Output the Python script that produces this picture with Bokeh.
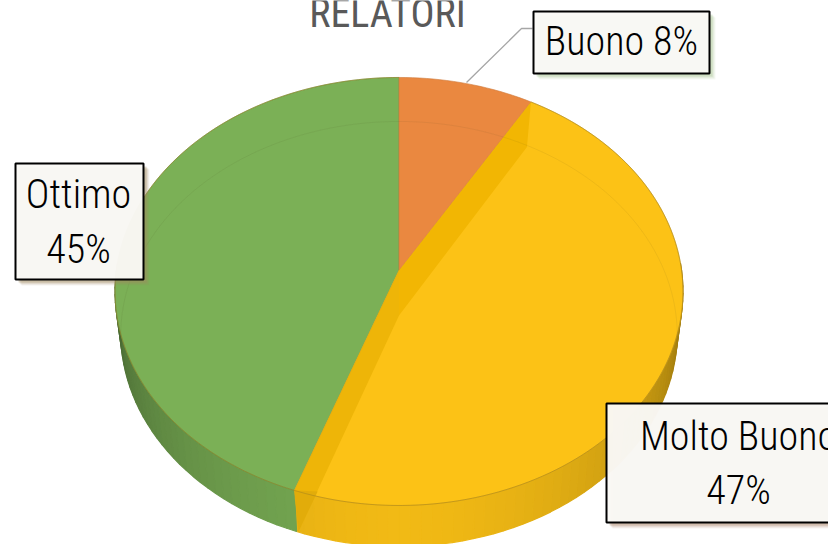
import math
from bokeh.plotting import figure
from bokeh.models import Range1d
from bokeh.core.properties import value
from bokeh.embed import file_html
from bokeh.resources import INLINE

categories = ["Buono", "Molto Buono", "Ottimo"]
shares = [8.45, 47.0, 44.55]
colors = ["#ea8840", "#fcc216", "#7bb056"]
edge_colors = ["#d07a3c", "#e2ab14", "#6a9a4c"]
wall_color = "#f2b603"
labels = [["Buono 8%"], ["Molto Buono", "47%"], ["Ottimo", "45%"]]
title_text = "RELATORI"
FONT = "'Roboto Condensed Light', 'Roboto Condensed', Roboto"
TITLE_FONT = "'Roboto Condensed', Roboto"
TEXT_SHIFT = 14

p = figure(width=828, height=544, x_range=Range1d(1, 829), y_range=Range1d(544, 0),
           output_backend="svg", toolbar_location=None, min_border=0,
           background_fill_color="white", border_fill_color="white", outline_line_color=None)
p.axis.visible = False
p.grid.visible = False

CX, RX, A, B, C = 399.5, 282.6, 185.5, 270.0, -0.098
DEPTH, SHRINK = 41.0, 0.98


def rim(deg, lower=False):
    t = math.radians(deg)
    u, v = math.sin(t), -math.cos(t)
    d = 1 + C * v
    x, y = CX + RX * u / d, (A * v + B) / d
    if lower:
        x, y = CX + (x - CX) * SHRINK, y + DEPTH
    return x, y


def arc(a, b, lower=False, step=1.5):
    n = max(2, int(abs(b - a) / step))
    return [rim(a + (b - a) * i / n, lower) for i in range(n + 1)]


def shade(hex_color, f):
    r, g, b = (int(hex_color[i:i + 2], 16) for i in (1, 3, 5))
    return "#%02x%02x%02x" % (int(r * f), int(g * f), int(b * f))


edges = [0.0]
for s in shares:
    edges.append(edges[-1] + s / sum(shares) * 360)

# side wall
xs, ys, cs = [], [], []
for i, base in enumerate(colors):
    a, b = max(edges[i], 88), min(edges[i + 1], 272)
    th = a
    while th < b:
        nx = min(th + 2, b)
        p1, p2 = rim(th), rim(nx)
        p3, p4 = rim(nx, True), rim(th, True)
        xs.append([p1[0], p2[0], p3[0], p4[0]])
        ys.append([p1[1], p2[1], p3[1], p4[1]])
        d = abs((th + nx) / 2 - 180)
        cs.append(shade(base, 0.96 - 0.40 * (d / 90) ** 1.6))
        th = nx
p.patches(xs, ys, fill_color=cs, line_color=cs, line_width=1.2)

# top face
apex = (CX, B)
for i, base in [(2, colors[2]), (1, colors[1]), (0, colors[0])]:
    pts = [apex] + arc(edges[i], edges[i + 1])
    p.patch([q[0] for q in pts], [q[1] for q in pts], fill_color=base,
            line_color=edge_colors[i], line_width=0.8, line_alpha=0.8)

# inner walls of the yellow slice
r1, r2 = rim(edges[1]), rim(edges[2])
l1, l2 = rim(edges[2], True), (r1[0] - 4, r1[1] + 45)
low = (CX, B + 45)
p.patch([apex[0], r1[0], l2[0], low[0]], [apex[1], r1[1], l2[1], low[1]],
        fill_color=wall_color, line_color=None)
p.patch([apex[0], r2[0], l1[0] + 2, low[0]], [apex[1], r2[1], l1[1], low[1]],
        fill_color="#eeb508", line_color=None)
# the part of that wall that shows through the front side
side_t = (r2[1] - low[1]) / (l1[1] - low[1])
sx = low[0] + (l1[0] + 2 - low[0]) * side_t
p.patch([r2[0], sx, l1[0] + 2], [r2[1], r2[1] + 1, l1[1]], fill_color="#e2ac0a", line_color=None)
p.line([apex[0], r2[0], l1[0] + 2], [apex[1], r2[1], l1[1]], line_color=edge_colors[1], line_width=0.8, line_alpha=0.7)

# faint inner ring and front rim
ring = arc(0, 360, True, 2)
start = next(k for k, q in enumerate(ring) if q[1] + 3 >= 345)
order = ring[start:] + ring[:start]
order = [q for q in order if q[1] + 3 < 345]
p.line([q[0] for q in order], [q[1] + 3 for q in order], line_color="#4a4a20", line_alpha=0.08, line_width=1)
front = arc(edges[1], edges[3])
p.line([q[0] for q in front], [q[1] for q in front], line_color="#a08020", line_alpha=0.5, line_width=1)

# leader line
p.line([467, 522, 533], [82, 28, 28], line_color="#a6a6a6", line_width=1.3)

# title
p.text([388], [27 - TEXT_SHIFT], text=[title_text], text_align="center", text_baseline="alphabetic",
       text_font=value(TITLE_FONT), text_font_size="40px", text_color="#595959")

# label boxes
boxes = [(534, 710, 11, 73, 622, [55]), (607, 880, 403, 522, 739, [450, 504]), (16, 144, 163, 279, 79, [208, 263])]
shadow_tints = ["#a9c795", "#b08a70", "#a08a60"]
for (x0, x1, y0, y1, cx, bases), lines, tint in zip(boxes, labels, shadow_tints):
    for k, alpha in ((6, 0.10), (5, 0.14), (4, 0.20), (3, 0.30)):
        p.quad(left=[x0 + k], right=[x1 + k], top=[y0 + k], bottom=[y1 + k],
               fill_color=tint, fill_alpha=alpha, line_color=None)
    p.quad(left=[x0], right=[x1], top=[y0], bottom=[y1], fill_color="#faf9f6",
           fill_alpha=0.96, line_color="#000000", line_width=2)
    for t, b in zip(lines, bases):
        p.text([cx], [b - TEXT_SHIFT], text=[t], text_align="center", text_baseline="alphabetic",
               text_font=value(FONT), text_font_size="40px", text_color="#000000")

open("out.html", "w").write(file_html(p, INLINE))
